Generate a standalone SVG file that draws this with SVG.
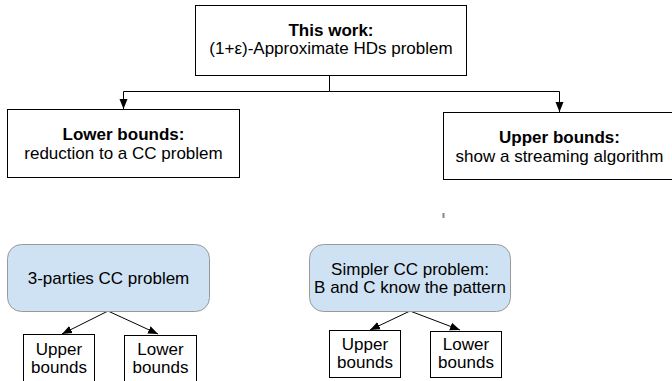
<svg xmlns="http://www.w3.org/2000/svg" width="672" height="381" viewBox="0 0 672 381">
  <style>
    text { font-family: "Liberation Sans", Arial, sans-serif; font-size: 17px; fill: #000; text-anchor: middle; }
    .b { font-weight: bold; }
    .box { fill: #fff; stroke: #000; stroke-width: 1; }
    .blue { fill: #cfe2f3; stroke: #999; stroke-width: 1; }
    .wire { fill: none; stroke: #000; stroke-width: 1; }
  </style>
  <defs>
    <marker id="arrow" viewBox="0 0 10 10" refX="10" refY="5" markerWidth="10" markerHeight="10" markerUnits="userSpaceOnUse" orient="auto">
      <path d="M0,1 L10,5 L0,9 Z" fill="#000"/>
    </marker>
  </defs>
  <rect width="672" height="381" fill="#fff"/>

  <g id="connectors">
    <path class="wire" d="M329.5,75 V91.5 H123.5 V109" marker-end="url(#arrow)"/>
    <path class="wire" d="M329.5,91.5 H559.5 V112" marker-end="url(#arrow)"/>
    <path class="wire" d="M108,311 L62,334" marker-end="url(#arrow)"/>
    <path class="wire" d="M108,311 L158,334" marker-end="url(#arrow)"/>
    <path class="wire" d="M410,311 L370,330" marker-end="url(#arrow)"/>
    <path class="wire" d="M410,311 L460,330" marker-end="url(#arrow)"/>
  </g>

  <g id="this-work">
    <rect class="box" x="195.5" y="5.5" width="271" height="70"/>
    <text class="b" x="331" y="36">This work:</text>
    <text x="331" y="54">(1+ε)-Approximate HDs problem</text>
  </g>

  <g id="lower-bounds">
    <rect class="box" x="7.5" y="109.5" width="232" height="68"/>
    <text class="b" x="123.5" y="140">Lower bounds:</text>
    <text x="123.5" y="159">reduction to a CC problem</text>
  </g>

  <g id="upper-bounds">
    <rect class="box" x="443.5" y="112.5" width="232" height="67"/>
    <text class="b" x="559.5" y="143">Upper bounds:</text>
    <text x="559.5" y="162">show a streaming algorithm</text>
  </g>

  <rect x="442.5" y="213" width="2" height="5" fill="#888"/>

  <g id="three-parties">
    <rect class="blue" x="7.5" y="244.5" width="202" height="67" rx="14" ry="14"/>
    <text x="108.5" y="284">3-parties CC problem</text>
  </g>

  <g id="simpler-cc">
    <rect class="blue" x="309.5" y="244.5" width="201" height="67" rx="14" ry="14"/>
    <text x="410" y="275">Simpler CC problem:</text>
    <text x="410" y="293">B and C know the pattern</text>
  </g>

  <g id="left-upper">
    <rect class="box" x="23.5" y="334.5" width="71" height="60"/>
    <text x="59" y="355">Upper</text>
    <text x="59" y="373">bounds</text>
  </g>

  <g id="left-lower">
    <rect class="box" x="124.5" y="335.5" width="72" height="60"/>
    <text x="160.5" y="355">Lower</text>
    <text x="160.5" y="373">bounds</text>
  </g>

  <g id="right-upper">
    <rect class="box" x="329.5" y="330.5" width="71" height="47"/>
    <text x="365" y="350">Upper</text>
    <text x="365" y="368">bounds</text>
  </g>

  <g id="right-lower">
    <rect class="box" x="430.5" y="331.5" width="71" height="46"/>
    <text x="466" y="350">Lower</text>
    <text x="466" y="368">bounds</text>
  </g>
</svg>
